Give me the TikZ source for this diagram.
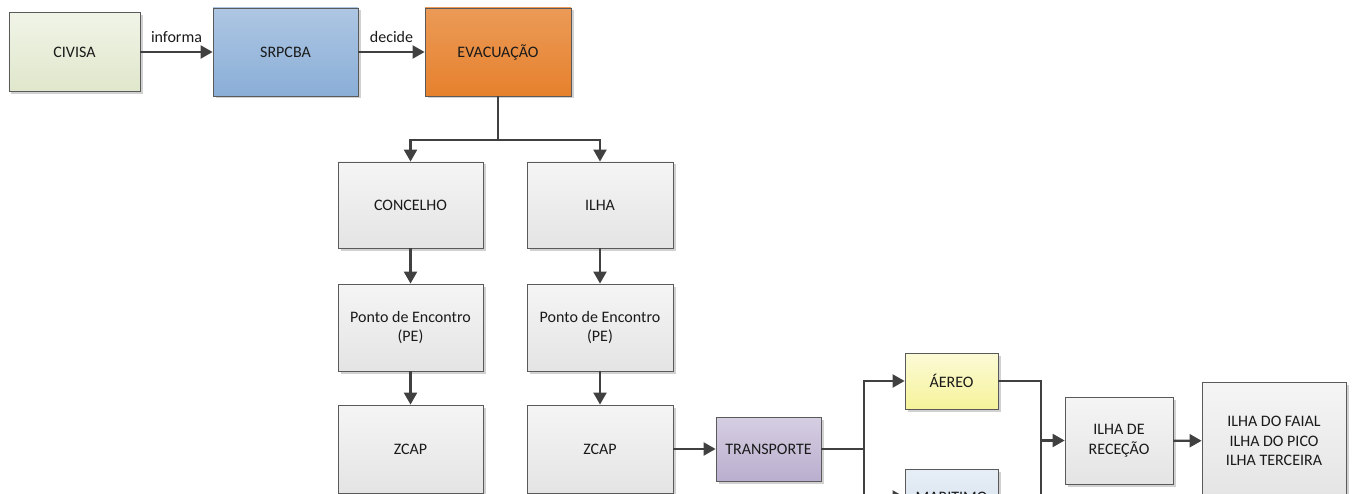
\documentclass[tikz,border=0pt]{standalone}
\usepackage{fontspec}
\setmainfont{Carlito}
\usetikzlibrary{arrows.meta,shadows}
\definecolor{linec}{HTML}{404040}
\definecolor{borderc}{HTML}{5A5A5A}
\definecolor{txt}{HTML}{1A1A1A}
\begin{document}
\begin{tikzpicture}[x=1bp,y=-1bp,
  box/.style={draw=borderc, line width=0.8bp, inner sep=0pt, align=center,
    font=\fontsize{16bp}{19.5bp}\selectfont, text=txt,
    drop shadow={shadow xshift=2.5bp, shadow yshift=-2.5bp, fill=black, opacity=0.18},
    top color=#1!60!white, bottom color=#1},
  box/.default={E4E4E4},
  grey/.style={box={graybot}},
  conn/.style={draw=linec, line width=2.2bp},
  arr/.style={conn, -{Triangle[length=12bp,width=13bp]}},
  lbl/.style={font=\fontsize{16bp}{19.5bp}\selectfont, text=txt, inner sep=3bp}
]
\definecolor{graybot}{HTML}{E4E4E4}
\definecolor{civc}{HTML}{DFE7CB}
\definecolor{srpc}{HTML}{8AAED7}
\definecolor{evc}{HTML}{E6812D}
\definecolor{trc}{HTML}{BAAECE}
\definecolor{aerc}{HTML}{F6F39A}
\definecolor{marc}{HTML}{D6E2EF}
\useasboundingbox (0,0) rectangle (1355,494);
\clip (0,0) rectangle (1355,494);

\node[box={civc}, top color=civc!45!white, minimum width=131bp, minimum height=79bp] (civisa) at (74.5,52) {CIVISA};
\node[box={srpc}, top color=srpc!70!white, minimum width=145bp, minimum height=88bp] (srpcba) at (285.5,52) {SRPCBA};
\node[box={evc}, top color=evc!80!white, minimum width=146bp, minimum height=88bp] (evac) at (498,52) {EVACUAÇÃO};

\node[grey, top color=white!96!black, minimum width=145bp, minimum height=86bp] (conc) at (410.5,205) {CONCELHO};
\node[grey, top color=white!96!black, minimum width=146bp, minimum height=86bp] (ilha) at (600,205) {ILHA};
\node[grey, top color=white!96!black, minimum width=145bp, minimum height=87bp] (pe1) at (410.5,327.5) {Ponto de Encontro\\(PE)};
\node[grey, top color=white!96!black, minimum width=146bp, minimum height=87bp] (pe2) at (600,327.5) {Ponto de Encontro\\(PE)};
\node[grey, top color=white!96!black, minimum width=145bp, minimum height=88bp] (zcap1) at (410.5,449) {ZCAP};
\node[grey, top color=white!96!black, minimum width=146bp, minimum height=88bp] (zcap2) at (600,449) {ZCAP};

\node[box={trc}, top color=trc!60!white, minimum width=105bp, minimum height=64bp] (transp) at (768.5,449) {TRANSPORTE};
\node[box={aerc}, top color=aerc!40!white, minimum width=93bp, minimum height=56bp] (aereo) at (951.5,381) {ÁEREO};
\node[box={marc}, top color=marc!60!white, minimum width=93bp, minimum height=56bp] (marit) at (951.5,497) {MARITIMO};
\node[grey, top color=white!96!black, minimum width=108bp, minimum height=87bp] (rece) at (1119,440.5) {ILHA DE\\RECEÇÃO};
\node[grey, top color=white!96!black, minimum width=144bp, minimum height=118bp] (ilhas) at (1274,441) {ILHA DO FAIAL\\ILHA DO PICO\\ILHA TERCEIRA};

\coordinate (j1) at (498,140);
\coordinate (j2) at (864,449);
\coordinate (j3) at (1041,440.5);

\draw[arr] (civisa) -- node[lbl, above=5bp] {informa} (srpcba);
\draw[arr] (srpcba) -- node[lbl, above=5bp] {decide} (evac);
\draw[conn] (evac.south) -- (j1);
\draw[arr] (j1) -| (conc.north);
\draw[arr] (j1) -| (ilha.north);
\draw[arr] (conc) -- (pe1);
\draw[arr] (pe1) -- (zcap1);
\draw[arr] (ilha) -- (pe2);
\draw[arr] (pe2) -- (zcap2);
\draw[arr] (zcap2) -- (transp);
\draw[conn] (transp.east) -- (j2);
\draw[arr] (j2) |- (aereo.west);
\draw[arr] (j2) |- (marit.west);
\draw[conn] (aereo.east) -| (j3);
\draw[conn] (marit.east) -| (j3);
\draw[arr] (j3) -- (rece.west);
\draw[arr] (rece) -- (ilhas);
\end{tikzpicture}
\end{document}
